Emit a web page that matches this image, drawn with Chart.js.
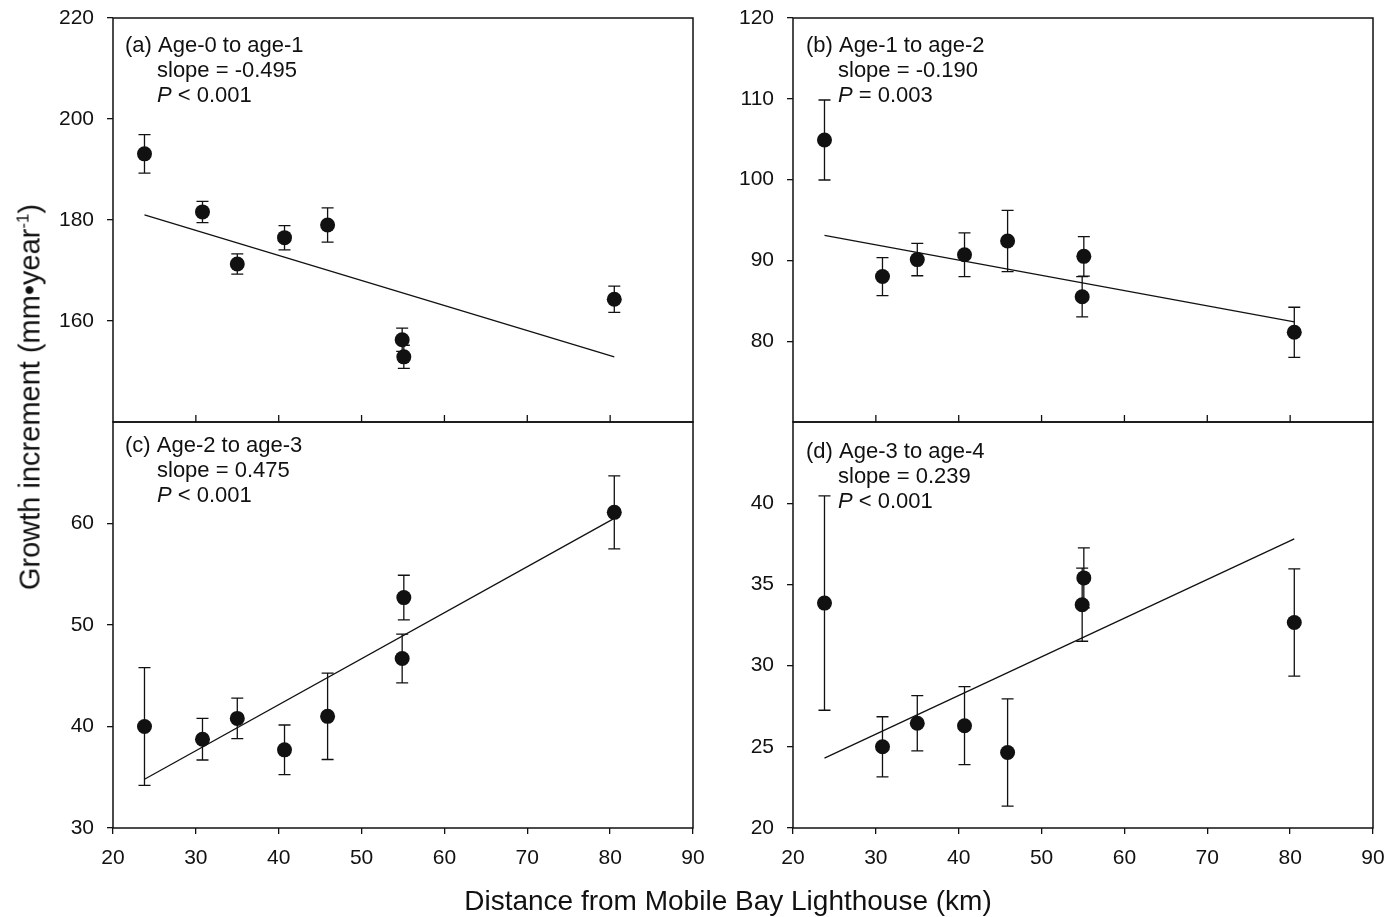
<!DOCTYPE html>
<html>
<head>
<meta charset="utf-8">
<script src="https://cdn.jsdelivr.net/npm/chart.js@4.4.1/dist/chart.umd.min.js"></script>
<style>
    body { margin: 0; background: #fff; width: 1398px; height: 917px; position: relative; overflow: hidden;
           font-family: "Liberation Sans", Arial, sans-serif; color: #111; }
    .panel { position: absolute; }
    #ytitle { position: absolute; left: 30px; top: 397px; transform: translate(-50%, -50%) rotate(-90deg);
              white-space: nowrap; font-size: 29px; }
    #ytitle sup { font-size: 17px; }
    #xtitle { position: absolute; left: 728px; top: 901px; transform: translate(-50%, -50%);
              white-space: nowrap; font-size: 28px; }
</style>
</head>
<body>
<canvas id="panelA" class="panel" style="left:0px;top:-8px"></canvas>
<canvas id="panelB" class="panel" style="left:700px;top:-8px"></canvas>
<canvas id="panelC" class="panel" style="left:0px;top:396px"></canvas>
<canvas id="panelD" class="panel" style="left:700px;top:396px"></canvas>
<div id="ytitle">Growth increment (mm•year<sup>-1</sup>)</div>
<div id="xtitle">Distance from Mobile Bay Lighthouse (km)</div>
<script>
// ---- data ----
const sites = [23.8, 30.8, 35.0, 40.7, 45.9, 54.9, 55.1, 80.5];   // distance, km
const xTicks = [20, 30, 40, 50, 60, 70, 80, 90];
const innerXTicks = [30, 40, 50, 60, 70, 80];

// (a) age-0 to age-1
const growthA = [193.1, 181.6, 171.3, 176.5, 179.0, 156.3, 152.9, 164.3];
const errA = [3.8, 2.1, 2.0, 2.4, 3.4, 2.3, 2.3, 2.6];
const fitA = [181.0, 152.9];
const yTicksA = [160, 180, 200, 220];

// (b) age-1 to age-2
const growthB = [104.9, 88.0, 90.1, 90.7, 92.4, 85.5, 90.5, 81.1];
const errB = [4.95, 2.35, 2.0, 2.7, 3.8, 2.5, 2.45, 3.1];
const fitB = [93.1, 82.4];
const yTicksB = [80, 90, 100, 110, 120];

// (c) age-2 to age-3
const growthC = [40.0, 38.75, 40.8, 37.7, 41.0, 46.7, 52.7, 61.1];
const errC = [5.8, 2.05, 2.0, 2.45, 4.25, 2.4, 2.2, 3.6];
const fitC = [34.8, 60.5];
const yTicksC = [30, 40, 50, 60];

// (d) age-3 to age-4
const growthD = [33.85, 25.0, 26.45, 26.3, 24.65, 33.75, 35.4, 32.65];
const errD = [6.6, 1.85, 1.7, 2.4, 3.3, 2.25, 1.85, 3.3];
const fitD = [24.3, 37.8];
const yTicksD = [20, 25, 30, 35, 40];

const panelTitles = ['(a) Age-0 to age-1', '(b) Age-1 to age-2', '(c) Age-2 to age-3', '(d) Age-3 to age-4'];
const slopes = ['-0.495', '-0.190', '0.475', '0.239'];
const pValues = ['< 0.001', '= 0.003', '< 0.001', '< 0.001'];

const FONT = '"Liberation Sans", Arial, sans-serif';
const INK = '#111';

// error bars drawn under the dots
const errorBars = {
    id: 'errorBars',
    beforeDatasetsDraw(chart) {
        const ctx = chart.ctx, xs = chart.scales.x, ys = chart.scales.y;
        chart.data.datasets.forEach(ds => {
            if (!ds.errors) return;
            ctx.save();
            ctx.strokeStyle = INK;
            ctx.lineWidth = 1.3;
            ds.data.forEach((p, i) => {
                const px = xs.getPixelForValue(p.x);
                const top = ys.getPixelForValue(p.y + ds.errors[i]);
                const bot = ys.getPixelForValue(p.y - ds.errors[i]);
                ctx.beginPath();
                ctx.moveTo(px, top); ctx.lineTo(px, bot);
                ctx.moveTo(px - 6, top); ctx.lineTo(px + 6, top);
                ctx.moveTo(px - 6, bot); ctx.lineTo(px + 6, bot);
                ctx.stroke();
            });
            ctx.restore();
        });
    }
};

// box frame, inward ticks for the upper panels, and the panel text
const panelDecor = {
    id: 'panelDecor',
    afterDraw(chart, args, opts) {
        const ctx = chart.ctx, a = chart.chartArea;
        ctx.save();
        ctx.strokeStyle = INK;
        ctx.lineWidth = 1.5;
        ctx.strokeRect(a.left, a.top, a.right - a.left, a.bottom - a.top);
        if (opts.innerTicks) {
            ctx.lineWidth = 1.3;
            ctx.beginPath();
            opts.innerTicks.forEach(v => {
                const px = chart.scales.x.getPixelForValue(v);
                ctx.moveTo(px, a.bottom);
                ctx.lineTo(px, a.bottom - 7);
            });
            ctx.stroke();
        }
        ctx.fillStyle = INK;
        ctx.textBaseline = 'middle';
        ctx.font = '22px ' + FONT;
        const x0 = a.left + opts.dx, y0 = a.top + opts.dy;
        ctx.fillText(opts.title, x0, y0);
        ctx.fillText('slope = ' + opts.slope, x0 + 32, y0 + 25);
        ctx.font = 'italic 22px ' + FONT;
        ctx.fillText('P', x0 + 32, y0 + 50);
        const pw = ctx.measureText('P').width;
        ctx.font = '22px ' + FONT;
        ctx.fillText(' ' + opts.p, x0 + 32 + pw, y0 + 50);
        ctx.restore();
    }
};

function makePanel(id, cfg) {
    const canvas = document.getElementById(id);
    canvas.width = cfg.w;
    canvas.height = cfg.h;
    canvas.style.width = cfg.w + 'px';
    canvas.style.height = cfg.h + 'px';
    const i = cfg.index;
    return new Chart(canvas.getContext('2d'), {
        type: 'scatter',
        data: {
            datasets: [
                {
                    data: sites.map((x, k) => ({ x: x, y: cfg.growth[k] })),
                    errors: cfg.err,
                    pointRadius: 7.5,
                    pointHoverRadius: 7.5,
                    backgroundColor: INK,
                    borderWidth: 0
                },
                {
                    data: [{ x: sites[0], y: cfg.fit[0] }, { x: sites[sites.length - 1], y: cfg.fit[1] }],
                    showLine: true,
                    borderColor: INK,
                    borderWidth: 1.3,
                    pointRadius: 0,
                    fill: false
                }
            ]
        },
        options: {
            responsive: false,
            devicePixelRatio: 1,
            animation: false,
            layout: { padding: cfg.pad },
            scales: {
                x: {
                    type: 'linear',
                    min: 20, max: 90,
                    display: cfg.showX,
                    afterBuildTicks: s => { s.ticks = xTicks.map(v => ({ value: v })); },
                    afterFit: s => { s.height = cfg.showX ? 60 : 0; },
                    grid: { drawOnChartArea: false, drawTicks: true, tickLength: 6, color: INK, lineWidth: 1.3 },
                    border: { display: false },
                    ticks: { font: { size: 21, family: FONT }, color: INK, padding: 12, maxRotation: 0, autoSkip: false }
                },
                y: {
                    type: 'linear',
                    min: cfg.yMin, max: cfg.yMax,
                    afterBuildTicks: s => { s.ticks = cfg.yTicks.map(v => ({ value: v })); },
                    afterFit: s => { s.width = cfg.yw; },
                    grid: { drawOnChartArea: false, drawTicks: true, tickLength: 6, color: INK, lineWidth: 1.3 },
                    border: { display: false },
                    ticks: { font: { size: 21, family: FONT }, color: INK, padding: 13, autoSkip: false }
                }
            },
            plugins: {
                legend: { display: false },
                tooltip: { enabled: false },
                panelDecor: {
                    title: panelTitles[i], slope: slopes[i], p: pValues[i],
                    dx: cfg.dx, dy: cfg.dy,
                    innerTicks: cfg.showX ? null : innerXTicks
                }
            }
        },
        plugins: [errorBars, panelDecor]
    });
}

// canvases are offset so every plot box lands on the reference frame:
// left column 113..693, right column 793..1373, rows 18..422 and 422..828
makePanel('panelA', { index: 0, w: 720, h: 456, yw: 113, pad: { top: 26, right: 27, bottom: 26, left: 0 },
    showX: false, yMin: 140, yMax: 220, yTicks: yTicksA, growth: growthA, err: errA, fit: fitA, dx: 12, dy: 28 });
makePanel('panelB', { index: 1, w: 698, h: 456, yw: 93, pad: { top: 26, right: 25, bottom: 26, left: 0 },
    showX: false, yMin: 70, yMax: 120, yTicks: yTicksB, growth: growthB, err: errB, fit: fitB, dx: 13, dy: 28 });
makePanel('panelC', { index: 2, w: 720, h: 492, yw: 113, pad: { top: 26, right: 27, bottom: 0, left: 0 },
    showX: true, yMin: 30, yMax: 70, yTicks: yTicksC, growth: growthC, err: errC, fit: fitC, dx: 12, dy: 24 });
makePanel('panelD', { index: 3, w: 698, h: 492, yw: 93, pad: { top: 26, right: 25, bottom: 0, left: 0 },
    showX: true, yMin: 20, yMax: 45, yTicks: yTicksD, growth: growthD, err: errD, fit: fitD, dx: 13, dy: 30 });
</script>
</body>
</html>
